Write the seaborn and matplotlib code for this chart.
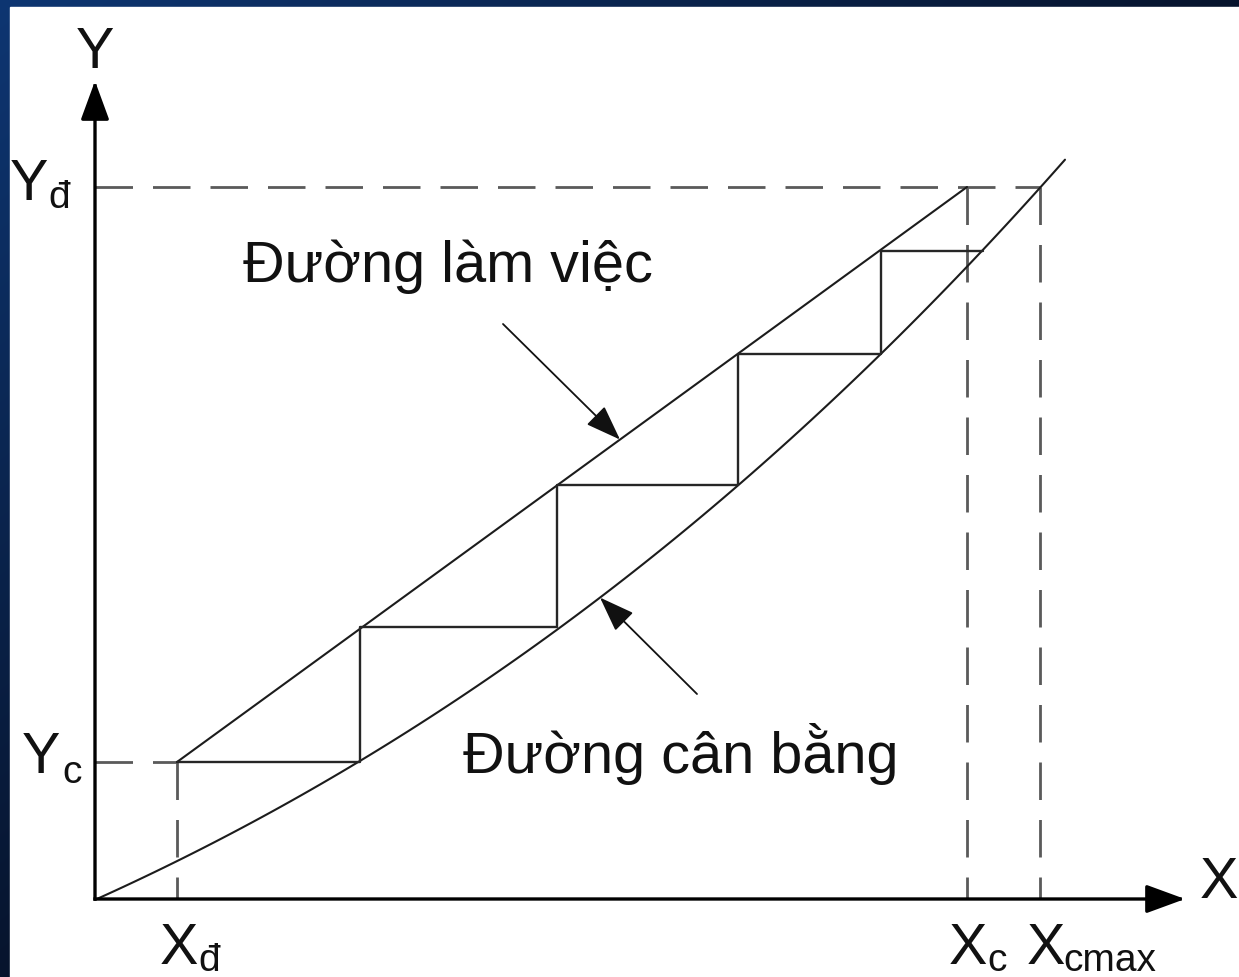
import numpy as np
import matplotlib
matplotlib.use("Agg")
import matplotlib.pyplot as plt
from matplotlib.patches import Rectangle
import seaborn as sns

# ---- diagram data (diagram units, origin at the axes corner) ----
# equilibrium curve Y* = f(X)
eq_x = [0, 62, 82, 128, 195, 265, 355, 462, 555, 643, 715, 786, 837, 888, 945, 970]
eq_y = [0, 28, 38, 61, 96, 137, 195, 272, 341, 414, 476, 545, 596, 648, 712, 740]

# operating (working) line between the two column ends
op_x = [82, 872]
op_y = [137, 712]

# characteristic compositions
x_d, x_c, x_cmax = 82, 872, 945
y_c, y_d = 137, 712

# stage-by-stage construction between the two lines
stage_x = [82, 265, 265, 462, 462, 643, 643, 786, 786, 888]
stage_y = [137, 137, 272, 272, 414, 414, 545, 545, 648, 648]

# axis lengths
axis_x_end, axis_y_end = 1090, 818

# labels
label_work = "Đường làm việc"
label_eq = "Đường cân bằng"

sns.set_theme(style="white")
plt.rcParams["font.family"] = ["Liberation Sans", "DejaVu Sans"]

W, H = 1239, 978
fig = plt.figure(figsize=(W / 100, H / 100), dpi=100)

# slide-style dark blue frame behind a white drawing area
bg = fig.add_axes([0, 0, 1, 1])
bg.set_axis_off()
yy, xx = np.mgrid[0:H, 0:W]
t = np.clip(xx / W + yy / H, 0, 1)[..., None]
c0 = np.array([14, 54, 114]) / 255
c1 = np.array([7, 20, 45]) / 255
bg.imshow(c0 * (1 - t) + c1 * t, aspect="auto", extent=[0, W, H, 0])
bg.add_patch(Rectangle((10, 8), W - 10, H - 8, color="white", zorder=2))
bg.set_xlim(0, W)
bg.set_ylim(H, 0)

ax = fig.add_axes([0, 0, 1, 1])
ax.patch.set_alpha(0)
ax.set_xlim(-95, W - 95)
ax.set_ylim(900 - H, 900)
ax.set_axis_off()

# equilibrium curve: smooth cubic fit through the read points
sns.regplot(x=eq_x, y=eq_y, ax=ax, order=3, ci=None, scatter=False,
            truncate=True, n_boot=0,
            line_kws=dict(color="#1c1c1c", lw=1.5))
eq_line = ax.lines[-1]
eq_fx, eq_fy = eq_line.get_data()

# operating line and stage steps
sns.lineplot(x=op_x, y=op_y, ax=ax, color="#1c1c1c", lw=1.5,
             sort=False, estimator=None)
sns.lineplot(x=stage_x, y=stage_y, ax=ax, color="#262626", lw=1.7,
             sort=False, estimator=None)

# dashed guide lines
dash_kw = dict(color="#5a5a5a", lw=2.0, dashes=(13.5, 7.2), zorder=1)
ax.plot([0, x_cmax], [y_d, y_d], **dash_kw)
ax.plot([0, x_d], [y_c, y_c], **dash_kw)
ax.plot([x_d, x_d], [y_c, 0], **dash_kw)
ax.plot([x_c, x_c], [y_d, 0], **dash_kw)
ax.plot([x_cmax, x_cmax], [y_d, 0], **dash_kw)

# coordinate axes with arrow heads
axis_arrow = dict(arrowstyle="-|>,head_length=0.6,head_width=0.22",
                  mutation_scale=40, lw=2.4, color="black",
                  shrinkA=0, shrinkB=0, capstyle="projecting")
ax.annotate("", xy=(0, axis_y_end), xytext=(0, 0), arrowprops=axis_arrow)
ax.annotate("", xy=(axis_x_end, 0), xytext=(0, 0), arrowprops=axis_arrow)

big, small = 41.5, 28
txt = dict(color="#111111", va="baseline", ha="left")

ax.text(0, axis_y_end + 14, "Y", fontsize=big, color="#111111",
        ha="center", va="baseline")
ax.text(axis_x_end + 15, 2, "X", fontsize=big, **txt)


def sub_label(main, sub, xy, main_off, sub_off):
    ax.annotate(main, xy=xy, xytext=main_off, textcoords="offset pixels",
                fontsize=big, **txt)
    ax.annotate(sub, xy=xy, xytext=sub_off, textcoords="offset pixels",
                fontsize=small, **txt)


sub_label("Y", "đ", (0, y_d), (-85, -12), (-47, -20))
sub_label("Y", "c", (0, y_c), (-73, -10), (-33, -20))
sub_label("X", "đ", (x_d, 0), (-17, -64), (21, -71))
sub_label("X", "c", (x_c, 0), (-18, -64), (20, -71))
sub_label("X", "cmax", (x_cmax, 0), (-13, -64), (23, -71))

# curve names with pointer arrows
pointer = dict(arrowstyle="-|>,head_length=0.55,head_width=0.2",
               mutation_scale=40, lw=1.3, color="#111111",
               shrinkA=0, shrinkB=0)
ax.text(148, 618, label_work, fontsize=big, **txt)
tip_w = 525
ax.annotate("", xy=(tip_w, np.interp(tip_w, op_x, op_y)), xytext=(408, 575),
            arrowprops=pointer)

ax.text(368, 127, label_eq, fontsize=big, **txt)
tip_e = 505
ax.annotate("", xy=(tip_e, np.interp(tip_e, eq_fx, eq_fy)), xytext=(602, 205),
            arrowprops=pointer)

fig.savefig("out.png", dpi=100)
